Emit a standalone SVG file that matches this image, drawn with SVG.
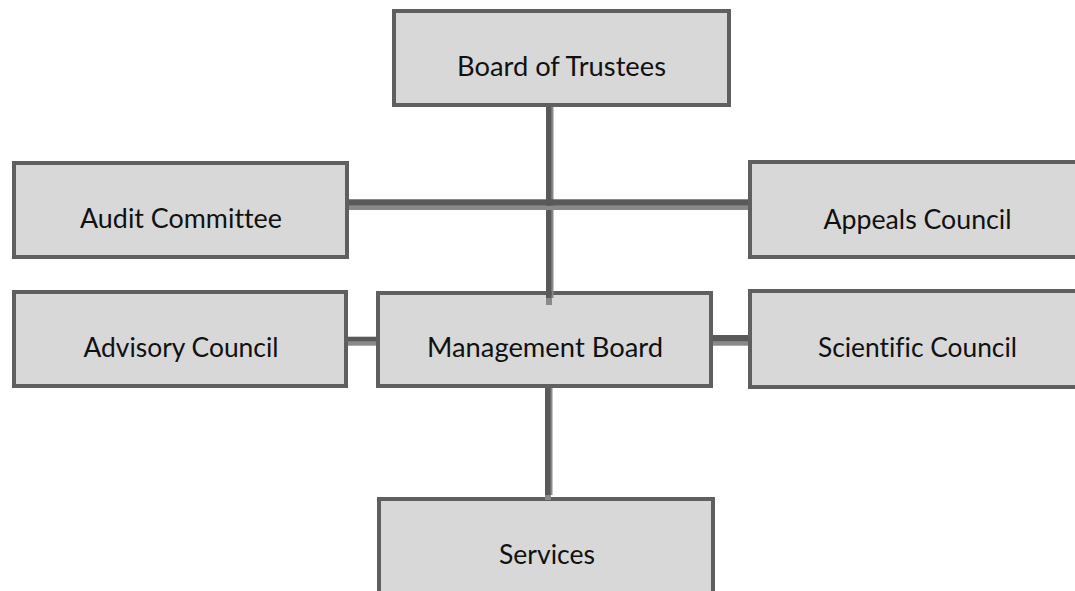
<svg xmlns="http://www.w3.org/2000/svg" width="1075" height="591" viewBox="0 0 1075 591">
  <style>
    .box { fill: #d8d8d8; stroke: #5f5f5f; stroke-width: 4; }
    .label { font-family: Lato, "Open Sans", "Liberation Sans", sans-serif; font-size: 26px; fill: #111111; text-anchor: middle; font-variant-ligatures: none; }
    .dark { fill: #595959; }
    .shade { fill: #898989; }
  </style>
  <rect x="0" y="0" width="1075" height="591" fill="#ffffff"/>

  <g id="board-of-trustees">
    <rect class="box" x="394" y="11" width="335" height="94"/>
    <text class="label" x="561.5" y="76" textLength="209" lengthAdjust="spacingAndGlyphs">Board of Trustees</text>
  </g>
  <g id="audit-committee">
    <rect class="box" x="14" y="163" width="333" height="94"/>
    <text class="label" x="181" y="228" textLength="202" lengthAdjust="spacingAndGlyphs">Audit Committee</text>
  </g>
  <g id="appeals-council">
    <rect class="box" x="750" y="162" width="335" height="95"/>
    <text class="label" x="917.5" y="228.5" textLength="188" lengthAdjust="spacingAndGlyphs">Appeals Council</text>
  </g>
  <g id="advisory-council">
    <rect class="box" x="14" y="292" width="332" height="94"/>
    <text class="label" x="181" y="357" textLength="195" lengthAdjust="spacingAndGlyphs">Advisory Council</text>
  </g>
  <g id="management-board">
    <rect class="box" x="378" y="293" width="333" height="93"/>
    <text class="label" x="545" y="357" textLength="236" lengthAdjust="spacingAndGlyphs">Management Board</text>
  </g>
  <g id="scientific-council">
    <rect class="box" x="750" y="291" width="335" height="96"/>
    <text class="label" x="917.5" y="357" textLength="199" lengthAdjust="spacingAndGlyphs">Scientific Council</text>
  </g>
  <g id="services">
    <rect class="box" x="379" y="499" width="334" height="120"/>
    <text class="label" x="547" y="564" textLength="96" lengthAdjust="spacingAndGlyphs">Services</text>
  </g>

  <g id="connectors">
    <!-- trunk: Board of Trustees down to Management Board -->
    <rect class="shade" x="551.5" y="107" width="2" height="191"/>
    <rect class="dark" x="546" y="107" width="5.7" height="191"/>
    <rect class="shade" x="546" y="298" width="6" height="7"/>
    <!-- cross bar: Audit Committee to Appeals Council -->
    <rect class="shade" x="349" y="205.5" width="399" height="4.5"/>
    <rect class="dark" x="349" y="199.3" width="399" height="6.4"/>
    <!-- Advisory Council to Management Board -->
    <rect class="shade" x="348" y="341.7" width="28" height="4"/>
    <rect class="dark" x="348" y="336.7" width="28" height="5"/>
    <!-- Management Board to Scientific Council -->
    <rect class="shade" x="713" y="341.7" width="35" height="4"/>
    <rect class="dark" x="713" y="335" width="35" height="6.7"/>
    <!-- Management Board down to Services -->
    <rect class="shade" x="550.5" y="388" width="2" height="107"/>
    <rect class="dark" x="545" y="388" width="5.8" height="107"/>
    <rect class="shade" x="545" y="495" width="6" height="5"/>
  </g>
</svg>
